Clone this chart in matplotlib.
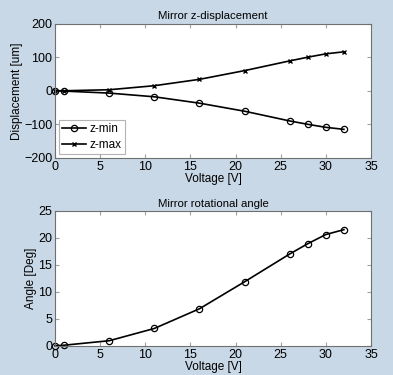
import numpy as np
import matplotlib.pyplot as plt

# Measured data
voltage = [0, 1, 6, 11, 16, 21, 26, 28, 30, 32]
z_min = [0, -1, -7, -18, -37, -61, -90, -100, -109, -115]
z_max = [0, 0, 3, 15, 34, 60, 89, 100, 110, 116]
angle = [0, 0.1, 0.93, 3.2, 6.85, 11.85, 17.0, 18.9, 20.6, 21.5]

bg = '#c9d8e6'
plt.rcParams['font.family'] = ['Liberation Sans', 'DejaVu Sans']
plt.rcParams['font.size'] = 8

fig = plt.figure(figsize=(3.93, 3.75), dpi=100, facecolor=bg)

def style(ax):
    ax.set_facecolor('white')
    for s in ax.spines.values():
        s.set_color('#707070')
        s.set_linewidth(0.8)
    ax.tick_params(direction='in', top=True, right=True, length=3,
                   color='#a0a0a0', labelsize=9, pad=2)
    ax.set_xlim(0, 35)
    ax.set_xticks(np.arange(0, 36, 5))

# Top: z-displacement
ax1 = fig.add_axes([0.14, 0.579, 0.804, 0.358])
ax1.plot(voltage, z_min, '-o', color='black', linewidth=1.2, markersize=4.5,
         markerfacecolor='none', markeredgewidth=0.9, label='z-min', clip_on=False)
ax1.plot(voltage, z_max, '-x', color='black', linewidth=1.2, markersize=3,
         markeredgewidth=1.0, label='z-max', clip_on=False)
style(ax1)
ax1.set_ylim(-200, 200)
ax1.set_yticks([-200, -100, 0, 100, 200])
ax1.set_title('Mirror z-displacement', fontsize=8.2, pad=3)
ax1.set_xlabel('Voltage [V]', fontsize=8.5, labelpad=0)
ax1.set_ylabel('Displacement [um]', fontsize=8.5, labelpad=1)
leg = ax1.legend(loc='lower left', fontsize=8.5, frameon=True, fancybox=False,
                 handlelength=2.0, borderpad=0.3, labelspacing=0.3,
                 handletextpad=0.3, borderaxespad=0.3)
leg.get_frame().set_edgecolor('#a0a0a0')
leg.get_frame().set_linewidth(0.8)

# Bottom: rotational angle
ax2 = fig.add_axes([0.14, 0.078, 0.804, 0.36])
ax2.plot(voltage, angle, '-o', color='black', linewidth=1.2, markersize=4.5,
         markerfacecolor='none', markeredgewidth=0.9, clip_on=False)
style(ax2)
ax2.set_ylim(0, 25)
ax2.set_yticks([0, 5, 10, 15, 20, 25])
ax2.set_title('Mirror rotational angle', fontsize=8.2, pad=3)
ax2.set_xlabel('Voltage [V]', fontsize=8.5, labelpad=0)
ax2.set_ylabel('Angle [Deg]', fontsize=8.5, labelpad=1)

fig.savefig('out.png', dpi=100, facecolor=bg)
